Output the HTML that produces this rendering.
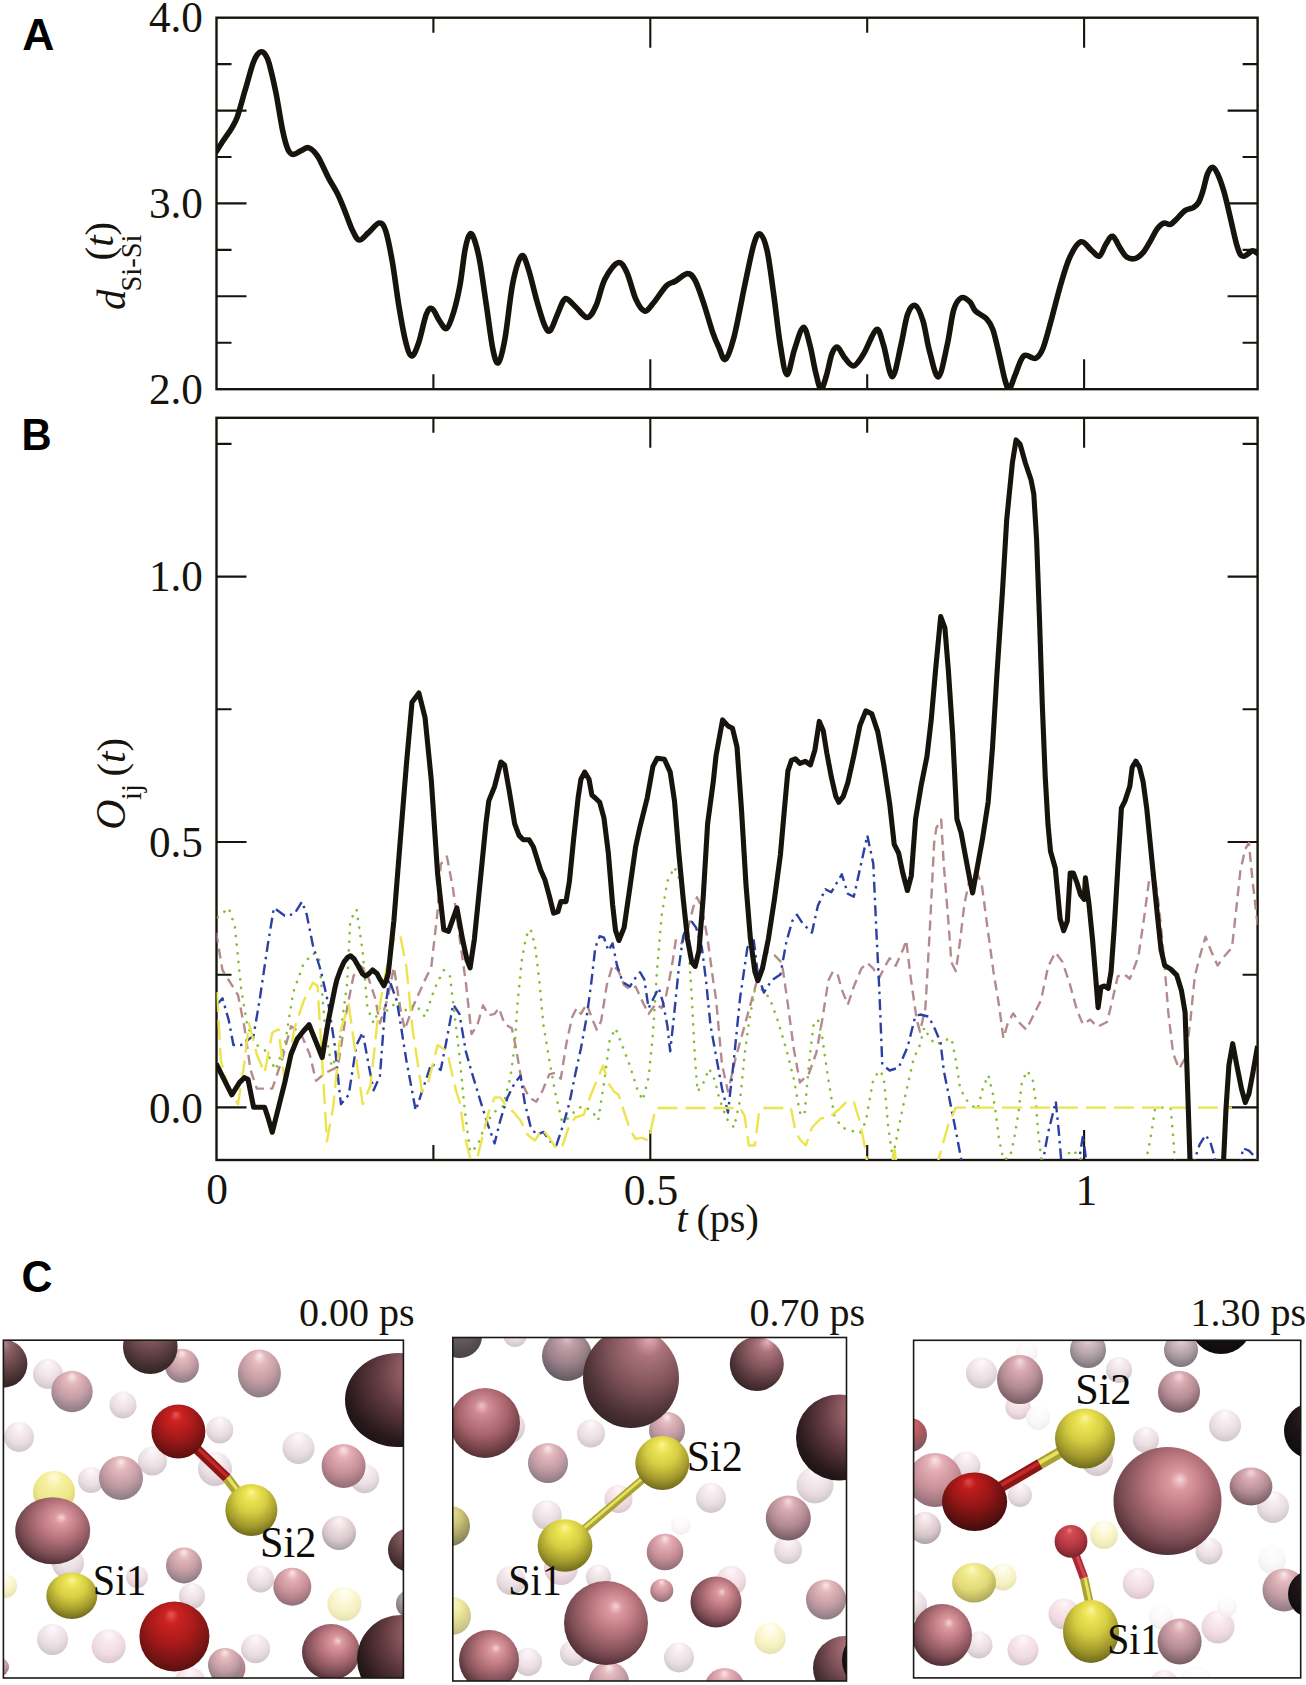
<!DOCTYPE html><html><head><meta charset="utf-8"><style>html,body{margin:0;padding:0;background:#fff;width:1306px;height:1685px;overflow:hidden}svg{display:block}</style></head><body>
<svg width="1306" height="1685" viewBox="0 0 1306 1685">
<defs>
<radialGradient id="gdk" cx="0.5" cy="0.35" r="0.75" fx="0.5" fy="0.06">
<stop offset="0" stop-color="#b88890"/>
<stop offset="0.22" stop-color="#8a6068"/>
<stop offset="0.5" stop-color="#684649"/>
<stop offset="0.8" stop-color="#3e2c2c"/>
<stop offset="1" stop-color="#2a2020"/>
</radialGradient>
<radialGradient id="gdkr" cx="0.6" cy="0.35" r="0.8" fx="0.82" fy="0.12">
<stop offset="0" stop-color="#d49aa2"/>
<stop offset="0.2" stop-color="#a46a72"/>
<stop offset="0.5" stop-color="#643c42"/>
<stop offset="0.8" stop-color="#28191b"/>
<stop offset="1" stop-color="#140e0e"/>
</radialGradient>
<radialGradient id="gpkb" cx="0.55" cy="0.4" r="0.7" fx="0.62" fy="0.3">
<stop offset="0" stop-color="#f2d4d8"/>
<stop offset="0.12" stop-color="#dc9aa0"/>
<stop offset="0.4" stop-color="#b8747c"/>
<stop offset="0.7" stop-color="#7e4e56"/>
<stop offset="0.9" stop-color="#4c2c32"/>
<stop offset="1" stop-color="#321c20"/>
</radialGradient>
<radialGradient id="gpm" cx="0.5" cy="0.4" r="0.72" fx="0.5" fy="0.12">
<stop offset="0" stop-color="#f2dade"/>
<stop offset="0.2" stop-color="#dcacb4"/>
<stop offset="0.55" stop-color="#b48c94"/>
<stop offset="0.85" stop-color="#7c6068"/>
<stop offset="1" stop-color="#5e4c54"/>
</radialGradient>
<radialGradient id="gpgd" cx="0.5" cy="0.4" r="0.72" fx="0.5" fy="0.12">
<stop offset="0" stop-color="#e0c8cc"/>
<stop offset="0.2" stop-color="#c0a0a8"/>
<stop offset="0.55" stop-color="#9a8088"/>
<stop offset="0.85" stop-color="#665c64"/>
<stop offset="1" stop-color="#504850"/>
</radialGradient>
<radialGradient id="gym" cx="0.5" cy="0.4" r="0.72" fx="0.5" fy="0.12">
<stop offset="0" stop-color="#fffce0"/>
<stop offset="0.3" stop-color="#f6f0a0"/>
<stop offset="0.6" stop-color="#eee888"/>
<stop offset="0.85" stop-color="#d8d27a"/>
<stop offset="1" stop-color="#c4be70"/>
</radialGradient>
<radialGradient id="gpkd" cx="0.5" cy="0.4" r="0.7" fx="0.45" fy="0.25">
<stop offset="0" stop-color="#eec0c6"/>
<stop offset="0.15" stop-color="#d08c94"/>
<stop offset="0.5" stop-color="#a8646c"/>
<stop offset="0.85" stop-color="#5c3438"/>
<stop offset="1" stop-color="#3a2024"/>
</radialGradient>
<radialGradient id="gpk" cx="0.5" cy="0.4" r="0.72" fx="0.5" fy="0.12">
<stop offset="0" stop-color="#fae6e8"/>
<stop offset="0.2" stop-color="#e6b0b8"/>
<stop offset="0.55" stop-color="#c89098"/>
<stop offset="0.85" stop-color="#96707a"/>
<stop offset="1" stop-color="#7a6068"/>
</radialGradient>
<radialGradient id="gpg" cx="0.5" cy="0.4" r="0.72" fx="0.5" fy="0.12">
<stop offset="0" stop-color="#f8eaec"/>
<stop offset="0.2" stop-color="#e4babe"/>
<stop offset="0.55" stop-color="#c49ca4"/>
<stop offset="0.85" stop-color="#907e86"/>
<stop offset="1" stop-color="#766a72"/>
</radialGradient>
<radialGradient id="ggy" cx="0.5" cy="0.4" r="0.72" fx="0.5" fy="0.12">
<stop offset="0" stop-color="#d0c8cc"/>
<stop offset="0.5" stop-color="#a09aa0"/>
<stop offset="1" stop-color="#6a6468"/>
</radialGradient>
<radialGradient id="gft" cx="0.5" cy="0.4" r="0.72" fx="0.5" fy="0.12">
<stop offset="0" stop-color="#fefafb"/>
<stop offset="0.3" stop-color="#f5ebee"/>
<stop offset="0.6" stop-color="#e9dde1"/>
<stop offset="0.85" stop-color="#d2c8cd"/>
<stop offset="1" stop-color="#bfb8bd"/>
</radialGradient>
<radialGradient id="gftp" cx="0.5" cy="0.4" r="0.72" fx="0.5" fy="0.12">
<stop offset="0" stop-color="#fff8fa"/>
<stop offset="0.3" stop-color="#f8e8ec"/>
<stop offset="0.6" stop-color="#f0dce2"/>
<stop offset="0.85" stop-color="#dcc8d0"/>
<stop offset="1" stop-color="#c8b8c0"/>
</radialGradient>
<radialGradient id="gfy" cx="0.5" cy="0.4" r="0.72" fx="0.5" fy="0.12">
<stop offset="0" stop-color="#fffffa"/>
<stop offset="0.3" stop-color="#fcfadc"/>
<stop offset="0.6" stop-color="#f6f2c4"/>
<stop offset="0.85" stop-color="#e8e4b4"/>
<stop offset="1" stop-color="#d8d4a8"/>
</radialGradient>
<radialGradient id="gyd" cx="0.5" cy="0.4" r="0.72" fx="0.5" fy="0.12">
<stop offset="0" stop-color="#ece4a0"/>
<stop offset="0.4" stop-color="#ccc474"/>
<stop offset="0.8" stop-color="#8e8a5c"/>
<stop offset="1" stop-color="#646052"/>
</radialGradient>
<radialGradient id="grd" cx="0.5" cy="0.4" r="0.7" fx="0.45" fy="0.18">
<stop offset="0" stop-color="#ea5656"/>
<stop offset="0.15" stop-color="#cc2222"/>
<stop offset="0.45" stop-color="#aa1a1a"/>
<stop offset="0.75" stop-color="#741414"/>
<stop offset="1" stop-color="#480c0c"/>
</radialGradient>
<radialGradient id="gye" cx="0.5" cy="0.4" r="0.7" fx="0.5" fy="0.15">
<stop offset="0" stop-color="#f8f4a0"/>
<stop offset="0.15" stop-color="#eee656"/>
<stop offset="0.42" stop-color="#d6ce42"/>
<stop offset="0.7" stop-color="#a29a2c"/>
<stop offset="0.9" stop-color="#6e681c"/>
<stop offset="1" stop-color="#4e4a12"/>
</radialGradient>
<radialGradient id="gbk" cx="0.5" cy="0.4" r="0.7" fx="0.5" fy="0.15">
<stop offset="0" stop-color="#3a2a2c"/>
<stop offset="0.5" stop-color="#1c1414"/>
<stop offset="1" stop-color="#0c0a0a"/>
</radialGradient>
<radialGradient id="gftv" cx="0.5" cy="0.4" r="0.72" fx="0.5" fy="0.12">
<stop offset="0" stop-color="#ffffff"/>
<stop offset="0.5" stop-color="#fbf9fa"/>
<stop offset="0.85" stop-color="#f3eff1"/>
<stop offset="1" stop-color="#e8e4e6"/>
</radialGradient>
<radialGradient id="gftg" cx="0.5" cy="0.4" r="0.72" fx="0.5" fy="0.12">
<stop offset="0" stop-color="#fcf4f6"/>
<stop offset="0.3" stop-color="#eedee2"/>
<stop offset="0.6" stop-color="#d8c8cc"/>
<stop offset="0.85" stop-color="#b0a6aa"/>
<stop offset="1" stop-color="#9a9296"/>
</radialGradient>
<radialGradient id="gpgg" cx="0.5" cy="0.4" r="0.72" fx="0.5" fy="0.12">
<stop offset="0" stop-color="#f0e6e8"/>
<stop offset="0.2" stop-color="#d8c4c8"/>
<stop offset="0.55" stop-color="#b0a0a6"/>
<stop offset="0.85" stop-color="#807880"/>
<stop offset="1" stop-color="#6a6468"/>
</radialGradient>
<radialGradient id="ggyd" cx="0.5" cy="0.4" r="0.72" fx="0.5" fy="0.12">
<stop offset="0" stop-color="#8a7e84"/>
<stop offset="0.4" stop-color="#6a5e64"/>
<stop offset="0.8" stop-color="#4e464a"/>
<stop offset="1" stop-color="#3e383c"/>
</radialGradient>
<radialGradient id="gdkm" cx="0.6" cy="0.35" r="0.75" fx="0.7" fy="0.08">
<stop offset="0" stop-color="#e6b2b8"/>
<stop offset="0.2" stop-color="#ac747c"/>
<stop offset="0.5" stop-color="#80545a"/>
<stop offset="0.8" stop-color="#4a3034"/>
<stop offset="1" stop-color="#2e2022"/>
</radialGradient>
<radialGradient id="gyl" cx="0.5" cy="0.4" r="0.72" fx="0.5" fy="0.12">
<stop offset="0" stop-color="#fafad0"/>
<stop offset="0.4" stop-color="#ece69a"/>
<stop offset="0.8" stop-color="#c8c288"/>
<stop offset="1" stop-color="#a8a47a"/>
</radialGradient>
<radialGradient id="gyl2" cx="0.45" cy="0.4" r="0.72" fx="0.45" fy="0.15">
<stop offset="0" stop-color="#fcfacc"/>
<stop offset="0.2" stop-color="#f2ec90"/>
<stop offset="0.55" stop-color="#e2da78"/>
<stop offset="0.85" stop-color="#b4ac5c"/>
<stop offset="1" stop-color="#908a4c"/>
</radialGradient>
<radialGradient id="grdd" cx="0.5" cy="0.4" r="0.7" fx="0.4" fy="0.15">
<stop offset="0" stop-color="#e04848"/>
<stop offset="0.15" stop-color="#c01c1c"/>
<stop offset="0.45" stop-color="#961616"/>
<stop offset="0.75" stop-color="#5c1010"/>
<stop offset="1" stop-color="#300808"/>
</radialGradient>
<radialGradient id="grf" cx="0.5" cy="0.4" r="0.7" fx="0.45" fy="0.15">
<stop offset="0" stop-color="#ee8088"/>
<stop offset="0.15" stop-color="#d44a54"/>
<stop offset="0.5" stop-color="#b83a44"/>
<stop offset="0.8" stop-color="#8a2a32"/>
<stop offset="1" stop-color="#601a22"/>
</radialGradient>
<radialGradient id="grf2" cx="0.5" cy="0.4" r="0.72" fx="0.5" fy="0.12">
<stop offset="0" stop-color="#ee9098"/>
<stop offset="0.2" stop-color="#d0606a"/>
<stop offset="0.55" stop-color="#a8585f"/>
<stop offset="0.85" stop-color="#7a5a62"/>
<stop offset="1" stop-color="#605058"/>
</radialGradient>
<clipPath id="cb0"><rect x="3.4" y="1340.2" width="400" height="337.8"/></clipPath>
<clipPath id="cb1"><rect x="452.8" y="1337.5" width="393.7" height="343.5"/></clipPath>
<clipPath id="cb2"><rect x="913.6" y="1340.3" width="387.1" height="337.6"/></clipPath>
<clipPath id="cpB"><rect x="216.5" y="417.8" width="1041.1" height="742.2"/></clipPath>
<clipPath id="cpA"><rect x="216.5" y="17.7" width="1041.1" height="371.5"/></clipPath>
</defs>
<g fill="none" stroke="#16140c" stroke-width="2.4">
<rect x="216.5" y="17.7" width="1041.1" height="371.5"/>
<rect x="216.5" y="417.8" width="1041.1" height="742.2"/>
</g>
<path fill="none" stroke="#16140c" stroke-width="2.1" d="M216.5,64.1L231.5,64.1M1257.6,64.1L1242.6,64.1M216.5,110.6L246.5,110.6M1257.6,110.6L1227.6,110.6M216.5,157L231.5,157M1257.6,157L1242.6,157M216.5,203.4L246.5,203.4M1257.6,203.4L1227.6,203.4M216.5,249.9L231.5,249.9M1257.6,249.9L1242.6,249.9M216.5,296.3L246.5,296.3M1257.6,296.3L1227.6,296.3M216.5,342.8L231.5,342.8M1257.6,342.8L1242.6,342.8M216.5,443.9L231.5,443.9M1257.6,443.9L1242.6,443.9M216.5,576.6L246.5,576.6M1257.6,576.6L1227.6,576.6M216.5,709.3L231.5,709.3M1257.6,709.3L1242.6,709.3M216.5,842L246.5,842M1257.6,842L1227.6,842M216.5,974.7L231.5,974.7M1257.6,974.7L1242.6,974.7M216.5,1107.4L246.5,1107.4M1257.6,1107.4L1227.6,1107.4M433.4,17.7L433.4,32.7M433.4,389.2L433.4,374.2M433.4,417.8L433.4,432.8M433.4,1160L433.4,1145M650.3,17.7L650.3,47.7M650.3,389.2L650.3,359.2M650.3,417.8L650.3,447.8M650.3,1160L650.3,1130M867.2,17.7L867.2,32.7M867.2,389.2L867.2,374.2M867.2,417.8L867.2,432.8M867.2,1160L867.2,1145M1084.1,17.7L1084.1,47.7M1084.1,389.2L1084.1,359.2M1084.1,417.8L1084.1,447.8M1084.1,1160L1084.1,1130"/>
<path clip-path="url(#cpA)" fill="none" stroke="#16140c" stroke-width="5.6" stroke-linejoin="round" stroke-linecap="round" d="M216.1,151.8C217.4,149.8 221.3,143.5 224,139.5C226.7,135.5 229.8,131.4 232,127.6C234.2,123.8 235.2,122.8 237.4,116.6C239.6,110.4 242.5,99.1 245.1,90.3C247.7,81.5 250.8,69.8 252.8,63.9C254.8,58 255.5,57 257,55C258.5,53 260.2,51.8 261.6,51.8C263,51.8 264.2,53 265.5,55C266.8,57 267.6,57.6 269.3,63.9C271,70.2 273.7,81.5 275.9,92.5C278.1,103.5 280.5,120.3 282.5,129.8C284.5,139.3 286.2,145.5 288,149.6C289.8,153.7 291.2,154.2 293.4,154.4C295.6,154.6 298.5,151.8 301.1,150.7C303.7,149.6 306.1,146.9 308.8,147.8C311.6,148.7 314.3,151.1 317.6,156.1C320.9,161.1 325.3,171.9 328.6,178.1C331.9,184.3 334.8,188.4 337.4,193.5C340,198.6 341.4,202.6 344,208.8C346.6,215 350.1,225.6 352.7,230.8C355.2,236 356.7,239.6 359.3,240C361.9,240.4 364.8,235.8 368.1,233C371.4,230.2 376.2,223.5 379.1,223.1C382,222.7 383.5,224.4 385.7,230.8C387.9,237.2 390.1,249.1 392.3,261.5C394.5,273.9 396.6,292.3 398.8,305.5C401,318.7 403.3,332.2 405.4,340.6C407.5,349 409.4,355.6 411.6,356C413.8,356.4 416.2,349.8 418.6,342.8C421.1,335.8 424,319.9 426.3,314.2C428.6,308.5 430,307.7 432.2,308.8C434.4,309.9 437.1,317.5 439.5,320.8C441.9,324.1 444.3,330 446.7,328.5C449.1,327 451.5,319.2 453.7,312C455.9,304.8 458.1,295.3 460,285C461.9,274.7 463.4,258.5 465,250C466.6,241.5 468.3,235.8 469.9,234.1C471.5,232.4 472.9,235.4 474.5,240C476.1,244.6 477.8,250.6 479.8,261.5C481.8,272.4 484.2,290.9 486.4,305.5C488.6,320.1 490.9,339.9 492.9,349.4C494.9,358.9 496.4,364.4 498.4,362.6C500.4,360.8 502.6,351.6 505,338.4C507.4,325.2 510,297.2 512.7,283.5C515.5,269.8 518.9,258.7 521.5,256.1C524.1,253.5 525.5,260.6 528.1,268.1C530.7,275.6 534.2,291.6 536.9,301.1C539.6,310.6 542.3,320.3 544.5,325.2C546.7,330.1 548,332.2 550,330.7C552,329.2 554.4,321.3 556.6,316.4C558.8,311.5 561.4,304 563.2,301.1C565,298.2 565.4,298.2 567.6,299.3C569.8,300.4 573.1,304.7 576.4,307.7C579.7,310.7 584.1,317.9 587.4,317.5C590.7,317.1 593.2,311.9 596.1,305.5C599,299.1 601.2,286.2 604.9,279.1C608.6,272 614.4,263.7 618.1,262.6C621.8,261.5 624,266.4 626.9,272.5C629.8,278.6 632.8,292.5 635.7,298.9C638.6,305.3 641.6,310.3 644.5,311C647.4,311.7 649.6,307.5 653.2,303.3C656.9,299.1 662.7,289.4 666.4,285.7C670.1,282 671.7,283.3 675.2,281.3C678.7,279.3 684,273.8 687.3,273.6C690.6,273.4 692.3,275.2 695,280.2C697.7,285.1 700.8,294.7 703.7,303.3C706.6,311.9 710,324.5 712.5,331.8C715,339.1 716.6,342.6 718.8,347.2C720.9,351.8 722.8,361.1 725.4,359.3C728,357.5 730.9,348.8 734.2,336.2C737.5,323.6 741.8,298.9 745.1,283.5C748.4,268.1 751.4,252.2 753.9,244C756.4,235.8 757.9,233 760.1,234.1C762.3,235.2 764.8,240.5 767.1,250.6C769.4,260.7 771.5,278.8 773.7,294.5C775.9,310.2 778.1,331.6 780.3,345C782.5,358.4 784.5,373.9 786.9,374.6C789.3,375.3 791.8,357.3 794.5,349.4C797.2,341.5 800.7,328.1 803.3,327.4C805.9,326.7 807.9,337.7 809.9,345C811.9,352.3 813.6,364 815.4,371.3C817.2,378.6 819.1,388.2 820.9,388.9C822.7,389.6 824.6,381.5 826.4,375.7C828.2,369.9 830.1,358.6 831.9,353.8C833.7,349.1 835.2,346.5 837.4,347.2C839.6,347.9 842.3,355.1 845,358.2C847.7,361.3 850.7,366.5 853.8,365.8C856.9,365.1 859.9,359.8 863.7,353.8C867.5,347.8 873.1,331.1 876.4,329.6C879.7,328.1 880.9,337.1 883.5,345C886.1,352.9 889.4,376.8 892.3,376.8C895.2,376.8 898.5,355.4 901,345C903.5,334.6 905.2,320.8 907.6,314.2C910,307.6 912.7,304.4 915.3,305.5C917.9,306.6 920.6,313.1 923,320.8C925.4,328.5 927,342.3 929.6,351.6C932.2,360.9 935.5,377.9 938.4,376.8C941.3,375.7 944.7,356.1 947.2,345C949.8,333.9 951.3,317.8 953.7,309.9C956.1,302 958.7,299.1 961.4,297.8C964.1,296.5 967.7,299.8 970,302C972.3,304.2 972.7,308.2 975.4,311C978.1,313.8 983.5,315.5 986.4,318.6C989.3,321.7 990.7,323.4 992.9,329.6C995.1,335.8 997.5,347.6 999.5,356C1001.5,364.4 1003.4,374.6 1005,380.1C1006.6,385.6 1007.8,389.6 1009.4,388.9C1011,388.2 1012.5,381.2 1014.9,375.7C1017.3,370.2 1020.2,358.9 1023.7,356C1027.2,353.1 1032.5,359.7 1035.8,358.2C1039.1,356.7 1040.7,354.2 1043.4,347.2C1046.1,340.2 1049.3,327 1052.2,316.4C1055.1,305.8 1058.1,293.4 1061,283.5C1063.9,273.6 1066.5,264.1 1069.8,257.2C1073.1,250.2 1077.1,242.9 1080.8,241.8C1084.5,240.7 1088.7,248.2 1091.8,250.6C1094.9,253 1097,257.2 1099.4,256.1C1101.8,255 1103.8,247.3 1106,244C1108.2,240.7 1110.2,235.6 1112.6,236.3C1115,237 1117.9,244.9 1120.3,248.4C1122.7,251.9 1124.3,255.5 1126.9,257.2C1129.5,258.8 1132.9,259.2 1135.7,258.3C1138.5,257.4 1141.1,254.9 1143.5,252.1C1145.9,249.3 1148,245.1 1150.2,241.3C1152.5,237.5 1154.8,232.2 1157,229.2C1159.2,226.2 1161.5,223.9 1163.7,223.1C1165.9,222.3 1168.2,225.2 1170.4,224.4C1172.7,223.6 1174.7,220.8 1177.2,218.4C1179.7,216.1 1182.6,212.1 1185.3,210.3C1188,208.5 1191.1,208.9 1193.3,207.6C1195.5,206.2 1197.1,204.9 1198.7,202.2C1200.3,199.5 1201.3,196.1 1202.8,191.4C1204.3,186.7 1205.9,177.9 1207.5,173.9C1209.1,169.9 1210.8,167.2 1212.5,167.2C1214.2,167.2 1215.6,169.6 1217.6,173.9C1219.6,178.2 1222,184.9 1224.3,192.8C1226.5,200.7 1229.1,212.6 1231.1,221.1C1233.1,229.6 1234.9,238.4 1236.5,244C1238.1,249.6 1239.2,252.8 1240.5,254.8C1241.8,256.8 1243.2,256.3 1244.6,256.1C1245.9,255.9 1247.3,254.3 1248.6,253.4C1249.9,252.5 1251.1,250.7 1252.6,250.7C1254.1,250.7 1256.8,252.9 1257.6,253.4"/>
<g clip-path="url(#cpB)" fill="none" stroke-width="2.4" stroke-linejoin="round">
<polyline stroke="#b48a8e" stroke-dasharray="10 6" points="216.2,932.8 222.5,970.2 230.3,982.7 238,995.1 244.3,1026.3 250.5,1069.9 256.8,1088.6 272.3,1088.6 281.7,1060.6 291,1026.3 300.4,1032.5 309.7,1054.3 316,1080.8 325.3,1073 337.8,1066.8 347.2,1007.6 353.4,976.4 359.6,965.5 365.9,970.2 375.2,998.3 379.9,1023.2 387.7,998.3 393.9,967.1 400.1,1007.6 404.8,1029.4 412.6,1007.6 425.1,979.6 431.3,967.1 437.6,911 440.7,864.3 446.9,856.5 453.1,889.2 459.4,936 465.8,982.2 471.5,1034.1 477.3,1025.4 483,1005.3 488.8,1015.3 494.6,1013.9 498.9,1008.1 504.6,1024 511.8,1028.3 516.1,1048.5 521.9,1083 529.1,1097.4 536.3,1101.7 542.1,1091.6 549.3,1074.4 555,1072.9 560.8,1078.7 566.5,1042.7 572.3,1016.8 576.6,1008.1 580.9,1013.9 586.7,1003.8 592.5,1019.7 596.8,1029.7 601.1,1021.1 606.8,985.1 612.6,965 618.4,970.7 624.1,985.1 629.9,989.4 635.6,986.6 641.4,999.5 648.6,1013.9 655.8,1003.8 661.6,1008.1 665.9,996.6 671.6,967.9 676,939.1 681.7,943.4 687.5,930.4 693.2,907.4 697,897.3 701.9,907.4 707.6,939.1 713.4,982.2 716,998.6 722,1064.6 728,1091.5 735.5,1058.6 743,1031.6 750.4,1004.6 757.9,977.6 766.9,952.2 774.4,955.2 781.9,962.7 787.9,1004.6 793.9,1049.6 799.9,1082.5 808.9,1073.5 816.4,1052.6 822.3,1019.6 828.3,980.6 832.8,971.7 837.3,973.2 841.8,989.6 847.8,1004.6 853.8,986.6 861.3,968.7 867.3,962.7 873.3,968.7 879.3,977.6 885.3,965.7 889.7,958.2 895.7,965.7 903.2,949.2 906.2,940.2 910.7,977.6 916.7,1019.6 920,1031.8 925.4,1008 929.8,930 934.1,843.3 936.3,828.2 941.2,819.5 943.8,865 948.2,919.1 951.4,962.5 955.8,971.1 960.1,940.8 964.4,904 969.8,878 976.4,871.5 981.8,884.5 987.2,925.6 993.7,973.3 999.1,1005.8 1003.4,1038.3 1007.8,1023.1 1013.2,1013.4 1019.7,1023.1 1026.2,1029.6 1033.7,1014.8 1040.9,1000.4 1048.1,966.7 1055.3,952.3 1062.5,961.9 1069.7,983.6 1076.9,1010 1083,1024.4 1090.2,1019.6 1097.4,1026.8 1107,1022 1111.8,1002.8 1117.8,976.3 1123.8,974 1129.8,978.8 1138.3,957.1 1144.3,916.3 1149.1,880.2 1153.9,870.6 1158.7,904.2 1163.5,952.3 1168.3,1012.4 1173.1,1053.3 1179.1,1068.9 1185.1,1058.1 1190,1024.4 1194.8,976.3 1199.6,957.1 1205.6,936.7 1211.6,952.3 1217.6,965.5 1223.6,957.1 1232,947.5 1236.8,904.2 1240.4,870.6 1245.3,848.9 1248.9,842.9 1252.5,880.2 1257.6,925"/>
<polyline stroke="#84bc30" stroke-width="2.6" stroke-linecap="round" stroke-dasharray="0.1 8.6" points="217.8,917.3 228.7,907.9 234.9,926.6 241.2,988.9 247.4,1026.3 256.8,1045 266.1,1051.2 275.5,1069.9 284.8,1045 293.3,992 303.5,964 312.9,953.1 319.1,957.8 325.3,1029.4 331.6,1066.8 337.8,1054.3 347.2,982.7 350.3,920.4 356.5,909.5 362.7,951.5 367.4,1007.6 373.6,1023.2 379.9,1007.6 387.7,1010.7 397,1001.4 406.4,1010.7 415.7,1004.5 425.1,1017 434.4,988.9 443.8,970.2 450,976.4 456.3,1029.4 460,1060 464.3,1106 470.1,1152.1 477.3,1146.3 485.9,1123.3 494.6,1111.8 503.2,1106 510.4,1077.2 514.7,1045.6 517.6,1002.4 521.9,959.2 526.2,936.2 530.5,929 534.9,944.8 539.2,979.4 543.5,1025.4 549.3,1060 555,1091.6 562.2,1121.9 569.4,1117.5 576.6,1108.9 583.8,1106 592.5,1111.8 598.2,1120.4 604,1083 609.7,1039.8 615.5,1028.3 621.2,1042.7 629.9,1065.7 637.1,1088.8 642.8,1100.3 648.6,1077.2 652.9,1034.1 657.2,967.9 661.6,916 667.3,881.5 674.5,867.1 680.3,881.5 684.6,910.3 688.9,953.5 691.8,996.6 694.7,1054.2 697.6,1091.6 703.3,1083 709.1,1068.6 714.8,1080.1 719,1097.5 726.5,1118.5 734,1127.5 740,1100.5 744.5,1055.6 748.9,1022.6 754.9,989.6 762.4,989.6 769.9,998.6 777.4,1019.6 786.4,1049.6 793.9,1079.5 799.9,1112.5 804.4,1115.5 808.9,1064.6 813.4,1025.6 817.9,1019.6 822.3,1037.6 828.3,1079.5 834.3,1115.5 841.8,1127.5 850.8,1130.5 859.8,1133.5 865.8,1121.5 873.3,1079.5 879.3,1070.5 883.8,1076.5 888.2,1127.5 892.7,1157.5 898.7,1127.5 906.2,1091.5 913.7,1058.6 920,1044.8 924.3,1027.5 929.8,1038.3 936.3,1044.8 943.8,1040.5 951.4,1038.3 955.8,1060 960.1,1088.1 965.5,1099 972,1105.5 977.4,1109.8 982.9,1088.1 988.3,1075.1 992.6,1092.5 995.9,1114.1 999.1,1140.1 1003.4,1159.6 1009.9,1157.5 1014.3,1138 1018.6,1112 1021.9,1081.6 1027.3,1070.8 1032.7,1079.5 1036,1103.3 1038.1,1131.5 1041.4,1159.6 1043.3,1170"/>
<polyline stroke="#84bc30" stroke-width="2.6" stroke-linecap="round" stroke-dasharray="0.1 8.6" points="1065,1170 1069.7,1150.6 1079.3,1154.2 1085,1170"/>
<polyline stroke="#84bc30" stroke-width="2.6" stroke-linecap="round" stroke-dasharray="0.1 8.6" points="1144,1170 1150.3,1139.8 1155.1,1108.6 1163.5,1107.4 1170.7,1108.6 1173.1,1135 1175.5,1170"/>
<polyline stroke="#2a40a4" stroke-dasharray="11 5 2.5 5" points="216.9,1004.5 222.5,998.3 228.7,1020 233.4,1045 241.2,1045 253.6,1035.6 259.9,998.3 267.7,945.3 273.9,907.9 284.8,915.7 294.2,914.1 302,901.7 306.6,914.1 312.9,945.3 320.7,970.2 328.5,1004.5 334.7,1045 340.9,1104.2 348.7,1094.8 356.5,1045 362.7,1032.5 369,1066.8 373.6,1090.2 379.9,1076.1 384.6,1013.8 389.2,979.6 397,1001.4 406.4,1060.6 415.7,1110.4 425.1,1082.4 431.3,1063.7 440.7,1069.9 446.9,1038.8 453.1,1004.5 459.4,1013.8 465.8,1051.3 471.5,1071.5 480.2,1100.3 487.4,1123.3 494.6,1143.4 500.3,1120.4 507.5,1097.4 514.7,1083 520.5,1075.8 524.8,1103.1 530.5,1126.2 536.3,1134.8 543.5,1131.9 549.3,1140.6 556.5,1144.9 563.7,1123.3 569.4,1103.1 575.2,1074.4 580.9,1048.5 586.7,1016.8 591,985.1 595.3,947.7 599.7,936.2 604,937.6 608.3,950.6 612.6,943.4 616.9,965 622.7,982.2 629.9,986.6 634.2,979.4 640,972.2 644.3,979.4 648.6,1008.1 652.9,999.5 658.7,988 663,1002.4 667.3,1025.4 670.2,1051.3 674.5,1011 678.8,967.9 683.2,936.2 687.5,924.7 691.8,921.8 696.1,927.6 701.9,947.7 706.2,982.2 710.5,1025.4 716,1055.6 722,1088.5 728,1112.5 734,1058.6 740,998.6 747.4,947.7 753.4,937.2 757.9,974.6 763.9,992.6 771.4,980.6 780.4,974.6 786.4,941.7 792.4,920.7 796.9,914.7 802.9,923.7 811.9,932.7 817.9,905.7 825.3,889.2 831.3,892.2 841.8,874.3 847.8,893.7 853.8,896.7 859.8,869.8 867.3,835.3 873.3,863.8 876.3,929.7 879.3,989.6 882.3,1064.6 889.7,1070.5 898.7,1067.6 907.7,1046.6 915.2,1016.6 920,1014.5 928.7,1016.6 935.2,1029.6 940.6,1042.6 943.8,1070.8 948.2,1092.5 952.5,1114.1 956.8,1135.8 961.2,1159.6 962,1170"/>
<polyline stroke="#2a40a4" stroke-dasharray="11 5 2.5 5" points="1041,1170 1043.3,1159 1048.1,1132.6 1052.9,1113.4 1055.8,1101.3 1058.9,1132.6 1062,1170"/>
<polyline stroke="#2a40a4" stroke-dasharray="11 5 2.5 5" points="1078,1170 1079.3,1159 1083,1135 1085.4,1154.2 1087,1170"/>
<polyline stroke="#2a40a4" stroke-dasharray="11 5 2.5 5" points="1193,1170 1194.8,1159 1199.6,1144.6 1205.6,1135 1210.4,1142.2 1215.2,1159 1217,1170"/>
<polyline stroke="#2a40a4" stroke-dasharray="11 5 2.5 5" points="1240,1170 1241.6,1159 1242.8,1148.2 1248.9,1150.6 1254.9,1156.6 1258,1160"/>
<polyline stroke="#ece44c" stroke-dasharray="20 8" points="216.9,992 220.9,1060.6 228.7,1088.6 238,1104.2 244.3,1063.7 249,1023.2 256.8,1054.3 264.6,1073 272.3,1032.5 278.6,1029.4 284.8,1082.4 294.2,1029.4 303.5,1001.4 312.9,982.7 317.5,985.8 322.2,1060.6 326.9,1141.6 333.1,1107.3 340.9,1029.4 348.7,1004.5 356.5,1060.6 362.7,1104.2 370.5,1085.5 378.3,1013.8 386.1,970.2 393.9,939.1 400.1,934.4 406.4,967.1 412.6,1029.4 422,1091.7 428.2,1082.4 437.6,1045 446.9,1051.2 456.3,1091.7 460,1103.1 464.3,1134.8 470.1,1157.8 477.3,1157.8 483,1134.8 488.8,1111.8 494.6,1097.4 500.3,1097.4 506.1,1106 513.3,1111.8 520.5,1120.4 527.7,1134.8 534.9,1140.6 542.1,1129 549.3,1137.7 556.5,1149.2 562.2,1146.3 568,1129 575.2,1117.5 583.8,1114.7 591,1094.5 598.2,1077.2 603.1,1065.7 608.3,1083 614,1091.6 618.4,1094.5 624.1,1111.8 629.9,1129 635.6,1139.1 641.4,1137.7 648.6,1140.6 652.9,1120.4 655.8,1108 740,1108 744.5,1115.5 748.9,1145.5 754.9,1145.5 759.4,1109.5 763.9,1108 790.9,1108 795.4,1130.5 799.9,1139.5 805.9,1145.5 811.9,1127.5 820.8,1118.5 829.8,1117 838.8,1109.5 847.8,1100.5 853.8,1102 859.8,1121.5 865.8,1151.5 868,1170"/>
<polyline stroke="#ece44c" stroke-dasharray="20 8" points="892,1170 894.2,1145.5 897,1170"/>
<polyline stroke="#ece44c" stroke-dasharray="20 8" points="935,1170 938.4,1159.6 948.2,1125 955.8,1107.6 1232,1107.6"/>
</g>
<polyline clip-path="url(#cpB)" fill="none" stroke="#16140c" stroke-width="5.1" stroke-linejoin="round" points="216.2,1063.7 224,1079.3 231.8,1094.8 239.6,1082.4 244.3,1077.7 248,1079.3 253.6,1107.3 264.6,1107.3 267.7,1116.6 272.3,1132.2 277,1113.5 284.8,1082.4 291,1054.3 297.3,1038.8 303.5,1031 309.1,1024.7 316,1041.9 322.2,1057.5 328.5,1020 334.7,988.9 336.8,980 340.4,970 344.1,961.8 347.8,957.2 350.5,955.8 354.2,959 357.9,965.5 362.5,973.8 365.3,976 368.9,973.8 372.6,970 377.2,973.8 380,979.3 383.9,985.8 386.4,980 388.3,973.3 393.9,920.4 400.1,842.5 406.4,764.6 412,702.3 418.9,693 425.1,717.9 431.3,780.2 437.6,873.6 443.8,929.7 448.5,931.3 456.9,907.9 462.5,939.1 467,960 470.1,967.9 474.4,939.1 480.2,881.5 485.9,823.9 488.8,800.9 494.6,786.5 500.9,762 504.6,764.9 509,789.4 514.7,823.9 519,835.4 523.3,839.8 529.1,839.8 533.4,847 540.6,870 545,880.1 549.3,895.9 553.6,913.2 557.9,911.7 560.8,901.6 566,901.6 569.4,881.5 573.7,838.3 578.1,798 580.9,779.3 584.7,772.1 589,779.3 591.9,795.1 595.3,798 599.7,802.3 604,818.2 608.3,852.7 612.6,904.5 615.5,930.4 618.9,940.5 624.1,927.6 629.9,887.3 635.6,847 640,826.8 647.2,798 652.9,766.4 657.2,758.3 664.4,759.2 670.2,772.1 674.5,800.9 678.8,852.7 683.2,898.8 687.5,939.1 691.8,962.1 695.2,966.4 699,950.6 703.3,895.9 707.6,823.9 713.4,780.7 716,755.9 722.6,719.9 728,725.9 732.5,728.3 737,746.9 741.5,809.8 746,884.8 750.4,938.7 754.9,971.7 757.9,980.6 762.4,968.7 768.4,938.7 774.4,899.7 780.4,854.8 784.9,803.8 787.9,770.9 791.5,760.4 795.4,758.9 799.9,763.4 805.3,761.3 810.4,764.9 814.9,749.9 819.3,721.4 823.2,730.4 826.8,752.9 831.3,776.9 835.8,796.4 838.8,802.3 843.3,796.4 847.8,782.9 853.8,755.9 859.8,725.9 865.8,710.9 871.8,713.9 877.8,731.9 883.8,764.9 889.7,803.8 894.2,844.3 898.6,853 902.8,873 907.4,890.5 911.3,875.8 915.6,818.9 921.3,784.7 927,756.2 931.3,719.1 935.5,670.7 940.7,616.6 944.9,628 948.4,670.7 952.6,733.4 956.9,818.9 961.2,833.1 965.4,855.9 969.7,878.7 972.6,892.9 976.8,870.1 982.5,838.8 988.2,801.8 992.5,747.6 996.8,676.4 1002.5,590.9 1006.7,519.7 1012.4,462.7 1016.1,439.9 1020.1,444.2 1025.3,462.7 1031,479.8 1033.8,494.1 1036.6,539.7 1039.5,619.4 1042.3,704.9 1045.2,776.1 1048,824.6 1050.5,851.3 1055.3,868.2 1060.1,918.7 1063.7,930.7 1067.3,921.1 1070.2,873 1073.3,873 1076.9,882.6 1080.5,894.6 1084.2,899.4 1085.4,877.8 1089,904.2 1092.6,940.3 1096.2,983.6 1098.1,1007.6 1101,987.2 1104.6,986 1108.2,988.4 1111.1,971.5 1114.2,928.3 1117.8,868.2 1121.4,808.1 1125,800.9 1129.8,786.4 1132.2,767.2 1135.8,761.2 1139.5,767.2 1143.1,781.6 1146.7,808.1 1150.3,844.1 1153.9,880.2 1157.5,916.3 1161.1,949.9 1164.7,965.5 1170.7,969.1 1176.7,975.1 1181.5,990.8 1185.1,1012.4 1186.3,1048.5 1188.3,1108.6 1190,1160.2 1192,1200 1220,1200 1223.6,1160.2 1226,1108.6 1228.9,1065.3 1232.7,1043.7 1236.8,1065.3 1241.6,1089.3 1245.3,1102.5 1248.9,1094.1 1252.5,1074.9 1257.6,1046"/>
<g font-family="'Liberation Serif', serif" font-size="44.3" fill="#16140c" text-anchor="end">
<text transform="translate(202.9,32) scale(0.975,1)">4.0</text>
<text transform="translate(202.9,218) scale(0.975,1)">3.0</text>
<text transform="translate(202.9,404) scale(0.975,1)">2.0</text>
<text transform="translate(202.9,591.2) scale(0.975,1)">1.0</text>
<text transform="translate(202.9,857.3) scale(0.975,1)">0.5</text>
<text transform="translate(202.9,1122.6) scale(0.975,1)">0.0</text>
</g>
<g font-family="'Liberation Serif', serif" font-size="43.5" fill="#16140c" text-anchor="middle">
<text x="217.2" y="1204.3">0</text>
<text x="651" y="1205.3">0.5</text>
<text x="1086.3" y="1204.5">1</text>
</g>
<text font-family="'Liberation Serif', serif" font-size="40" fill="#16140c" x="676.5" y="1231.8"><tspan font-style="italic">t</tspan></text>
<text font-family="'Liberation Serif', serif" font-size="40" fill="#16140c" x="696.5" y="1231.8">(ps)</text>
<g font-family="'Liberation Serif', serif" fill="#16140c">
<text transform="translate(125,310) rotate(-90)" font-size="41" font-style="italic">d</text>
<text transform="translate(141,291.5) rotate(-90)" font-size="28.5">Si-Si</text>
<text transform="translate(113,260.5) rotate(-90)" font-size="41"><tspan>(</tspan><tspan font-style="italic">t</tspan><tspan>)</tspan></text>
<text transform="translate(125,829.8) rotate(-90)" font-size="42" font-style="italic">O</text>
<text transform="translate(141,800) rotate(-90)" font-size="28.5">ij</text>
<text transform="translate(125,776.6) rotate(-90)" font-size="41"><tspan>(</tspan><tspan font-style="italic">t</tspan><tspan>)</tspan></text>
</g>
<g font-family="'Liberation Sans', sans-serif" font-weight="bold" font-size="44.5" fill="#000">
<text x="22.3" y="50">A</text>
<text x="21.5" y="450" textLength="30.1" lengthAdjust="spacingAndGlyphs">B</text>
<text x="21.5" y="1292" textLength="31" lengthAdjust="spacingAndGlyphs">C</text>
</g>
<g font-family="'Liberation Serif', serif" font-size="40" fill="#16140c" text-anchor="end">
<text x="414.5" y="1326">0.00 ps</text>
<text x="865" y="1326">0.70 ps</text>
<text x="1306" y="1326">1.30 ps</text>
</g>
<g clip-path="url(#cb0)">
<circle cx="48" cy="1374" r="15" fill="url(#gft)"/>
<circle cx="123" cy="1405" r="13.5" fill="url(#gft)"/>
<circle cx="19" cy="1437" r="15" fill="url(#gft)"/>
<circle cx="152.5" cy="1461" r="14.5" fill="url(#gft)"/>
<circle cx="91" cy="1480" r="13" fill="url(#gft)"/>
<circle cx="215" cy="1469" r="17" fill="url(#gft)"/>
<circle cx="219.8" cy="1429.9" r="13.5" fill="url(#gft)"/>
<circle cx="298.5" cy="1448" r="16" fill="url(#gft)"/>
<circle cx="364.7" cy="1478.7" r="14.5" fill="url(#gft)"/>
<circle cx="68" cy="1563" r="16" fill="url(#gft)"/>
<circle cx="192" cy="1596" r="13" fill="url(#gft)"/>
<circle cx="52.6" cy="1639.5" r="15.5" fill="url(#gft)"/>
<circle cx="108.7" cy="1646.3" r="17" fill="url(#gftp)"/>
<circle cx="260.5" cy="1579" r="13.5" fill="url(#gft)"/>
<circle cx="255.6" cy="1648.8" r="14.5" fill="url(#gft)"/>
<circle cx="339" cy="1533" r="17" fill="url(#gftg)"/>
<circle cx="137" cy="1577" r="11" fill="url(#gftp)"/>
<circle cx="190" cy="1683" r="16" fill="url(#gftp)"/>
<circle cx="5" cy="1586" r="12" fill="url(#gfy)"/>
<circle cx="54" cy="1492" r="21" fill="url(#gym)"/>
<circle cx="344.4" cy="1604" r="17" fill="url(#gfy)"/>
<circle cx="182" cy="1365.7" r="17" fill="url(#gpg)"/>
<circle cx="72" cy="1391.5" r="20.7" fill="url(#gpg)"/>
<circle cx="121" cy="1478" r="22" fill="url(#gpg)"/>
<ellipse cx="259.4" cy="1373.4" rx="21.5" ry="24" fill="url(#gpg)"/>
<circle cx="343.6" cy="1466" r="22" fill="url(#gpk)"/>
<circle cx="184" cy="1565.4" r="18" fill="url(#gpg)"/>
<circle cx="292.3" cy="1586.8" r="19" fill="url(#gpk)"/>
<circle cx="227.4" cy="1668" r="18" fill="url(#gpk)"/>
<circle cx="410" cy="1604" r="14" fill="url(#ggy)"/>
<circle cx="0" cy="1667" r="9" fill="url(#gpg)"/>
<circle cx="225" cy="1665" r="17" fill="url(#gpg)"/>
<circle cx="3.4" cy="1363.7" r="24" fill="url(#gdk)"/>
<circle cx="150.3" cy="1346.8" r="27.3" fill="url(#gdk)"/>
<ellipse cx="398" cy="1400" rx="53" ry="47" fill="url(#gdkr)"/>
<circle cx="410" cy="1550" r="22" fill="url(#gdk)"/>
<ellipse cx="52.7" cy="1530.8" rx="37.5" ry="33.5" fill="url(#gpkb)"/>
<ellipse cx="331" cy="1652" rx="29" ry="28" fill="url(#gpkb)"/>
<circle cx="401" cy="1659" r="44" fill="url(#gdkr)"/>
<line x1="178.4" y1="1431.5" x2="227" y2="1478" stroke="#8a1616" stroke-width="10"/><line x1="179.2" y1="1430.6" x2="227.8" y2="1477.1" stroke="#c42828" stroke-width="3.5"/>
<line x1="227" y1="1478" x2="251" y2="1510" stroke="#aaa232" stroke-width="10"/><line x1="228" y1="1477.3" x2="252" y2="1509.3" stroke="#e8e060" stroke-width="3.5"/>
<circle cx="178.4" cy="1431.5" r="27" fill="url(#grd)"/>
<circle cx="174.4" cy="1636.5" r="35" fill="url(#grd)"/>
<circle cx="251.4" cy="1510" r="26" fill="url(#gye)"/>
<ellipse cx="71.8" cy="1595.7" rx="25.5" ry="23.2" fill="url(#gye)"/>
</g>
<rect x="3.4" y="1340.2" width="400" height="337.8" fill="none" stroke="#1a1814" stroke-width="1.6"/>
<g clip-path="url(#cb1)">
<circle cx="515" cy="1335" r="12" fill="url(#gft)"/>
<circle cx="591" cy="1433.5" r="14" fill="url(#gft)"/>
<circle cx="508" cy="1427" r="17" fill="url(#gft)"/>
<circle cx="815" cy="1485" r="18.5" fill="url(#gft)"/>
<circle cx="711" cy="1498" r="15" fill="url(#gft)"/>
<circle cx="618.5" cy="1499" r="14" fill="url(#gftp)"/>
<circle cx="547" cy="1515" r="14.7" fill="url(#gft)"/>
<circle cx="681" cy="1525" r="10" fill="url(#gftv)"/>
<circle cx="788" cy="1550" r="14" fill="url(#gft)"/>
<circle cx="511" cy="1580.5" r="14.5" fill="url(#gft)"/>
<circle cx="598.5" cy="1577" r="12.5" fill="url(#gft)"/>
<circle cx="731" cy="1581" r="15" fill="url(#gftp)"/>
<circle cx="561" cy="1568" r="17" fill="url(#gftp)"/>
<circle cx="679" cy="1657.5" r="15" fill="url(#gft)"/>
<circle cx="528" cy="1662" r="14" fill="url(#gft)"/>
<circle cx="573" cy="1653" r="13" fill="url(#gft)"/>
<circle cx="770" cy="1638.5" r="15.7" fill="url(#gfy)"/>
<circle cx="450" cy="1526" r="20" fill="url(#gyd)"/>
<circle cx="452" cy="1616" r="19" fill="url(#gyl)"/>
<circle cx="567" cy="1356" r="25" fill="url(#gpgd)"/>
<circle cx="667" cy="1430" r="18" fill="url(#gpg)"/>
<circle cx="548" cy="1463" r="20" fill="url(#gpg)"/>
<circle cx="788.3" cy="1518" r="22.5" fill="url(#gpm)"/>
<circle cx="665" cy="1552" r="18.3" fill="url(#gpk)"/>
<circle cx="661.8" cy="1590.4" r="11.5" fill="url(#gpk)"/>
<circle cx="716" cy="1602" r="25.5" fill="url(#gpkb)"/>
<circle cx="826" cy="1599.5" r="20" fill="url(#gpg)"/>
<circle cx="609" cy="1682" r="20" fill="url(#gpg)"/>
<circle cx="724.5" cy="1688" r="20" fill="url(#gpk)"/>
<circle cx="460" cy="1336" r="22" fill="url(#ggyd)"/>
<ellipse cx="631" cy="1378" rx="48" ry="50" fill="url(#gdkm)"/>
<circle cx="756.8" cy="1364" r="27" fill="url(#gdkm)"/>
<circle cx="485" cy="1423" r="35" fill="url(#gpkd)"/>
<circle cx="839" cy="1437.5" r="43" fill="url(#gdkr)"/>
<circle cx="606" cy="1623" r="42" fill="url(#gpkb)"/>
<circle cx="489" cy="1660" r="30" fill="url(#gpkb)"/>
<circle cx="845" cy="1668" r="32" fill="url(#gdkm)"/>
<circle cx="872" cy="1660" r="30" fill="url(#gbk)"/>
<line x1="565" y1="1545.5" x2="662" y2="1463" stroke="#aaa232" stroke-width="8"/><line x1="564.4" y1="1544.8" x2="661.4" y2="1462.3" stroke="#e8e060" stroke-width="2.8"/>
<circle cx="662.3" cy="1463" r="27" fill="url(#gye)"/>
<ellipse cx="565" cy="1545.5" rx="27.4" ry="26.2" fill="url(#gye)"/>
</g>
<rect x="452.8" y="1337.5" width="393.7" height="343.5" fill="none" stroke="#1a1814" stroke-width="1.6"/>
<g clip-path="url(#cb2)">
<circle cx="1027" cy="1352" r="11" fill="url(#gftv)"/>
<circle cx="1119" cy="1370" r="13" fill="url(#gft)"/>
<circle cx="981.5" cy="1373" r="15.5" fill="url(#gft)"/>
<circle cx="1018" cy="1407" r="12.6" fill="url(#gftp)"/>
<circle cx="1038" cy="1418" r="12" fill="url(#gftv)"/>
<circle cx="1225" cy="1425.5" r="16" fill="url(#gft)"/>
<circle cx="1146" cy="1440" r="13" fill="url(#gft)"/>
<circle cx="1097" cy="1460" r="16" fill="url(#gft)"/>
<circle cx="966" cy="1466" r="14.5" fill="url(#gft)"/>
<circle cx="1020" cy="1495" r="12" fill="url(#gft)"/>
<circle cx="1273" cy="1507" r="16" fill="url(#gft)"/>
<circle cx="925" cy="1528" r="16" fill="url(#gftg)"/>
<circle cx="1104" cy="1535" r="14" fill="url(#gfy)"/>
<circle cx="1209" cy="1551" r="13.5" fill="url(#gft)"/>
<circle cx="1272" cy="1560" r="14" fill="url(#gftv)"/>
<circle cx="1003" cy="1577" r="13.5" fill="url(#gfy)"/>
<circle cx="1138.5" cy="1583.5" r="15.7" fill="url(#gftp)"/>
<circle cx="912" cy="1605" r="15" fill="url(#gft)"/>
<circle cx="1064" cy="1614" r="15.5" fill="url(#gftp)"/>
<circle cx="979" cy="1645" r="13.5" fill="url(#gft)"/>
<circle cx="1023" cy="1650" r="15.5" fill="url(#gftp)"/>
<circle cx="1161" cy="1617" r="12" fill="url(#gftv)"/>
<circle cx="1218" cy="1627" r="16.5" fill="url(#gftp)"/>
<circle cx="1227" cy="1607" r="10" fill="url(#gftv)"/>
<circle cx="1164" cy="1684" r="14" fill="url(#gftp)"/>
<circle cx="1196" cy="1682" r="16" fill="url(#gftv)"/>
<circle cx="1088" cy="1350" r="18" fill="url(#gpgg)"/>
<circle cx="1181" cy="1350" r="17" fill="url(#gpgg)"/>
<ellipse cx="1020" cy="1379.5" rx="23" ry="24.5" fill="url(#gpm)"/>
<circle cx="1179" cy="1391.7" r="21" fill="url(#gpm)"/>
<circle cx="935" cy="1480" r="27" fill="url(#gpk)"/>
<ellipse cx="1251" cy="1486.5" rx="21.4" ry="19" fill="url(#gpm)"/>
<ellipse cx="1179.6" cy="1641.5" rx="22" ry="23" fill="url(#gpm)"/>
<circle cx="1221" cy="1323" r="31" fill="url(#gbk)"/>
<circle cx="1312" cy="1431" r="28" fill="url(#gbk)"/>
<circle cx="1167.5" cy="1501" r="54" fill="url(#gpkb)"/>
<circle cx="1284" cy="1590" r="21.5" fill="url(#gpg)"/>
<circle cx="1312" cy="1594" r="24" fill="url(#gbk)"/>
<ellipse cx="942" cy="1635" rx="30" ry="31" fill="url(#gpkb)"/>
<circle cx="910" cy="1435" r="17" fill="url(#grf2)"/>
<line x1="975" y1="1502" x2="1040" y2="1464" stroke="#8a1616" stroke-width="11"/><line x1="974.3" y1="1500.9" x2="1039.3" y2="1462.9" stroke="#c42828" stroke-width="3.8"/>
<line x1="1040" y1="1464" x2="1085" y2="1438" stroke="#aaa232" stroke-width="11"/><line x1="1039.3" y1="1462.9" x2="1084.3" y2="1436.9" stroke="#e8e060" stroke-width="3.8"/>
<ellipse cx="974.6" cy="1501.7" rx="32.6" ry="29.3" fill="url(#grdd)"/>
<line x1="1071" y1="1543" x2="1084" y2="1578" stroke="#a82a34" stroke-width="8.5"/><line x1="1072" y1="1542.6" x2="1085" y2="1577.6" stroke="#d84450" stroke-width="3"/>
<line x1="1084" y1="1578" x2="1092" y2="1615" stroke="#aaa232" stroke-width="8.5"/><line x1="1085" y1="1577.8" x2="1093" y2="1614.8" stroke="#e8e060" stroke-width="3"/>
<circle cx="1071" cy="1541.4" r="16.4" fill="url(#grf)"/>
<circle cx="1085" cy="1438.5" r="30" fill="url(#gye)"/>
<ellipse cx="974" cy="1582.7" rx="21.9" ry="19.9" fill="url(#gyl2)"/>
<ellipse cx="1091" cy="1631.5" rx="28" ry="31.5" fill="url(#gye)"/>
</g>
<rect x="913.6" y="1340.3" width="387.1" height="337.6" fill="none" stroke="#1a1814" stroke-width="1.6"/>
<g font-family="'Liberation Serif', serif" font-size="44.5" fill="#0e0c08">
<text transform="translate(92.8,1595.4) scale(0.903,1)">Si1</text>
<text transform="translate(260,1556.7) scale(0.950,1)">Si2</text>
<text transform="translate(686.8,1470.7) scale(0.941,1)">Si2</text>
<text transform="translate(508.3,1595.4) scale(0.899,1)">Si1</text>
<text transform="translate(1075.2,1403.5) scale(0.947,1)">Si2</text>
<text transform="translate(1107.2,1653.5) scale(0.893,1)">Si1</text>
</g>
</svg></body></html>
